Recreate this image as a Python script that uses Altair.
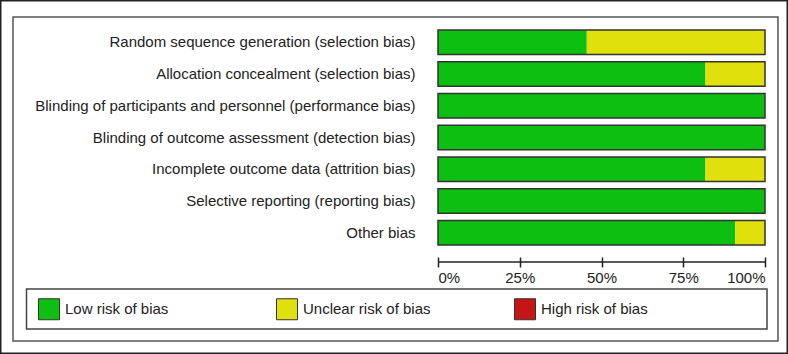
import altair as alt
import pandas as pd

categories = [
    "Random sequence generation (selection bias)",
    "Allocation concealment (selection bias)",
    "Blinding of participants and personnel (performance bias)",
    "Blinding of outcome assessment (detection bias)",
    "Incomplete outcome data (attrition bias)",
    "Selective reporting (reporting bias)",
    "Other bias",
]
low = [45.5, 81.8, 100, 100, 81.8, 100, 90.9]
unclear = [54.5, 18.2, 0, 0, 18.2, 0, 9.1]
high = [0, 0, 0, 0, 0, 0, 0]
risk_levels = ["Low risk of bias", "Unclear risk of bias", "High risk of bias"]
risk_colors = ["#0cbf10", "#e0e00c", "#c41616"]
tick_values = [0, 25, 50, 75, 100]

rows = []
for i, c in enumerate(categories):
    for j, (lvl, vals) in enumerate(zip(risk_levels, [low, unclear, high])):
        rows.append({"cat": c, "risk": lvl, "pct": vals[i], "ord": j})
long_df = pd.DataFrame(rows)
cat_df = pd.DataFrame({"cat": categories, "zero": [0] * len(categories),
                       "total": [a + b + c for a, b, c in zip(low, unclear, high)]})
axis_df = pd.DataFrame({"lo": [tick_values[0]], "hi": [tick_values[-1]]})
one = pd.DataFrame({"a": [0]})

FONT = "Liberation Sans"
FS = 15
W, H = 327, 215
PL, PT = 438, 30

y_enc = alt.Y("cat:N", sort=categories,
              scale=alt.Scale(paddingInner=0.225, paddingOuter=0),
              axis=alt.Axis(title=None, ticks=False, domain=False, labelFontSize=FS,
                            labelFont=FONT, labelColor="#222222", labelPadding=23,
                            labelLimit=600))
x_scale = alt.Scale(domain=[0, 100], nice=False)

bars = alt.Chart(long_df).mark_bar(strokeWidth=0).encode(
    x=alt.X("pct:Q", stack="zero", scale=x_scale,
            axis=alt.Axis(values=tick_values, title=None, grid=False, domain=False,
                          tickSize=10, tickWidth=1.5, tickColor="#222222", offset=12,
                          labelExpr="datum.value + '%'", labelFlush=True,
                          labelFontSize=FS, labelFont=FONT, labelColor="#222222",
                          labelPadding=3)),
    y=y_enc,
    color=alt.Color("risk:N", scale=alt.Scale(domain=risk_levels, range=risk_colors),
                    legend=alt.Legend(title=None, orient="none", legendX=-400, legendY=268,
                                      direction="horizontal", columns=3, gridAlign="all",
                                      symbolType="square", symbolSize=441,
                                      symbolStrokeColor="#333333", symbolStrokeWidth=1,
                                      symbolOpacity=1, labelFontSize=FS, labelFont=FONT,
                                      labelColor="#222222", labelOffset=5,
                                      columnPadding=81, padding=0)),
    order=alt.Order("ord:Q"),
)

outline = alt.Chart(cat_df).mark_bar(fill=None, stroke="#333333", strokeWidth=1.5).encode(
    x=alt.X("zero:Q", scale=x_scale),
    x2="total:Q",
    y=y_enc,
)

domain_line = alt.Chart(axis_df).mark_rule(color="#222222", strokeWidth=1.5).encode(
    x=alt.X("lo:Q", scale=x_scale), x2="hi:Q", y=alt.value(232)
)

outer_frame = alt.Chart(one).mark_rect(fill=None, stroke="#222222", strokeWidth=1.5).encode(
    x=alt.value(-PL + 0.75), x2=alt.value(788 - PL - 0.75),
    y=alt.value(-PT + 0.75), y2=alt.value(354 - PT - 0.75)
)
inner_frame = alt.Chart(one).mark_rect(fill=None, stroke="#555555", strokeWidth=1.5).encode(
    x=alt.value(13 - PL), x2=alt.value(778 - PL),
    y=alt.value(17 - PT), y2=alt.value(341 - PT)
)
legend_box = alt.Chart(one).mark_rect(fill=None, stroke="#444444", strokeWidth=1.5).encode(
    x=alt.value(26.5 - PL), x2=alt.value(767 - PL),
    y=alt.value(289 - PT), y2=alt.value(329 - PT)
)

chart = alt.layer(bars, outline, domain_line, outer_frame, inner_frame, legend_box).properties(
    width=W, height=H,
    autosize=alt.AutoSizeParams(type="none"),
    padding={"left": PL, "top": PT, "right": 788 - PL - W, "bottom": 354 - PT - H},
    background="white",
).configure_view(stroke=None)

chart.save("out.html", embed_options={"renderer": "svg", "actions": False})
